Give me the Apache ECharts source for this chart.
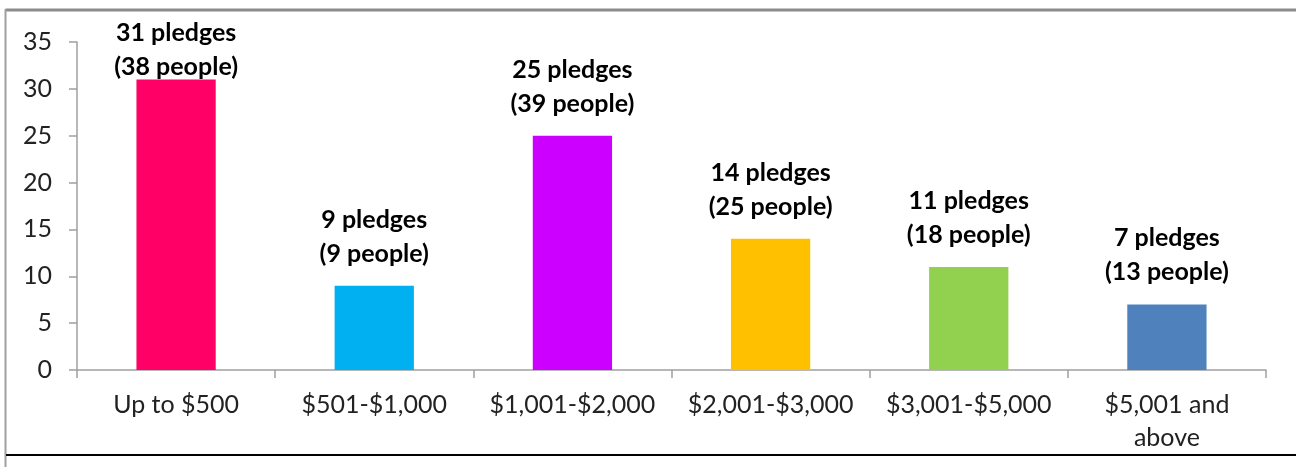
<!DOCTYPE html>
<html>
<head>
<meta charset="utf-8">
<script src="https://cdn.jsdelivr.net/npm/echarts@6/dist/echarts.min.js"></script>
<style>
html,body{margin:0;padding:0;background:#fff;}
#c{width:1296px;height:467px;}
</style>
</head>
<body>
<div id="c"></div>
<script>
const categories = ['Up to $500', '$501-$1,000', '$1,001-$2,000', '$2,001-$3,000', '$3,001-$5,000', '$5,001 and\nabove'];
const pledges = [31, 9, 25, 14, 11, 7];
const people = [38, 9, 39, 25, 18, 13];
const barColors = ['#FF0066', '#00B0F0', '#CC00FF', '#FFC000', '#92D050', '#4F81BD'];
const yTicks = [0, 5, 10, 15, 20, 25, 30, 35];

const chart = echarts.init(document.getElementById('c'), null, {renderer: 'canvas'});
const FONT = 'Lato';
chart.setOption({
  animation: false,
  backgroundColor: '#fff',
  grid: {left: 77, right: 30, top: 42, bottom: 97},
  xAxis: {
    type: 'category',
    data: categories,
    boundaryGap: true,
    axisLine: {lineStyle: {color: '#A0A0A0', width: 1.5}},
    axisTick: {show: true, length: 8, lineStyle: {color: '#A0A0A0', width: 1.5}},
    axisLabel: {color: '#222', fontFamily: FONT, fontSize: 25, margin: 18, lineHeight: 33, interval: 0}
  },
  yAxis: {
    type: 'value',
    min: yTicks[0],
    max: yTicks[yTicks.length - 1],
    interval: 5,
    splitLine: {show: false},
    axisLine: {show: true, lineStyle: {color: '#A0A0A0', width: 1.5}},
    axisTick: {show: true, length: 8, lineStyle: {color: '#A0A0A0', width: 1.5}},
    axisLabel: {color: '#222', fontFamily: FONT, fontSize: 25, margin: 25}
  },
  series: [{
    type: 'bar',
    barWidth: '40%',
    data: pledges.map((v, i) => {
      const d = {value: v, itemStyle: {color: barColors[i]}};
      if (i === 0) d.label = {distance: -4};
      return d;
    }),
    label: {
      show: true,
      position: 'top',
      distance: 15,
      color: '#000',
      fontFamily: FONT,
      fontWeight: 'bold',
      fontSize: 25,
      lineHeight: 34,
      formatter: p => p.value + ' pledges\n(' + people[p.dataIndex] + ' people)'
    }
  }],
  graphic: [
    {type: 'line', shape: {x1: 5.5, y1: 10, x2: 1296, y2: 10}, style: {stroke: '#8C8C8C', lineWidth: 3}},
    {type: 'line', shape: {x1: 5.5, y1: 9, x2: 5.5, y2: 467}, style: {stroke: '#A0A0A0', lineWidth: 2}},
    {type: 'line', shape: {x1: 6, y1: 455, x2: 1296, y2: 455}, style: {stroke: '#000', lineWidth: 2}}
  ]
});
</script>
</body>
</html>
